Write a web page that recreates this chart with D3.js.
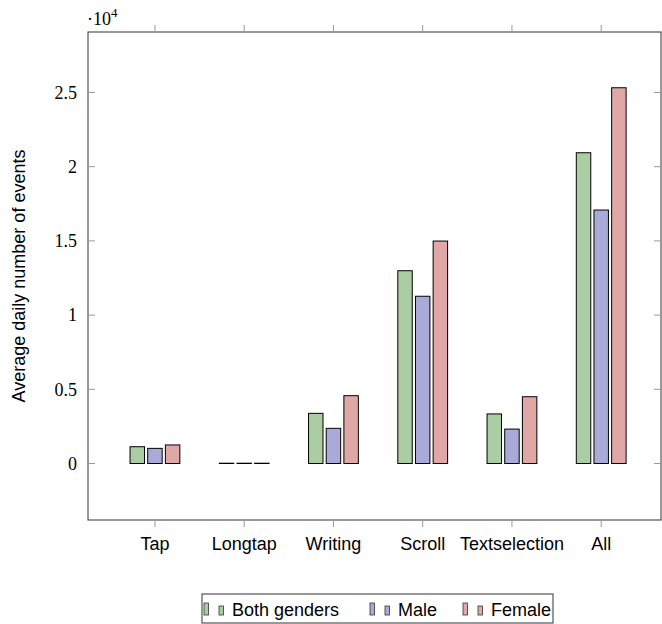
<!DOCTYPE html>
<html lang="en">
<head>
  <meta charset="UTF-8">
  <title>Average daily number of events</title>
  <script src="https://d3js.org/d3.v7.min.js"></script>
  <style>
    body { margin: 0; background: #fff; }
    .sans { font-family: 'Liberation Sans', 'DejaVu Sans', sans-serif; }
    .serif { font-family: 'Liberation Serif', 'DejaVu Serif', serif; }
  </style>
</head>
<body>
  <div id="chart"></div>
  <script>
    const categories = ["Tap", "Longtap", "Writing", "Scroll", "Textselection", "All"];
    const seriesNames = ["Both genders", "Male", "Female"];
    const bothGenders = [1130, 20, 3380, 12990, 3340, 20940];
    const male = [1020, 20, 2370, 11270, 2320, 17080];
    const female = [1250, 20, 4570, 14990, 4500, 25320];
    const yTicks = [0, 5000, 10000, 15000, 20000, 25000];
    const yTickLabels = ["0", "0.5", "1", "1.5", "2", "2.5"];

    const fills = ["#abcda3", "#aaaad8", "#dfa8a6"];
    const series = [bothGenders, male, female];

    const W = 662, H = 624;
    const plot = { left: 88, right: 661, top: 32, bottom: 520 };

    const svg = d3.select("#chart").append("svg")
      .attr("width", W).attr("height", H);

    // index scale, pgfplots-like enlarged limits
    const x = d3.scaleLinear().domain([-0.75, 5.67]).range([plot.left, plot.right]);
    const y = d3.scaleLinear().domain([-3807, 29077]).range([plot.bottom, plot.top]);

    const unit = x(1) - x(0);
    const barW = unit * 0.162;
    const barStep = unit * 0.198;

    // bars
    series.forEach((vals, s) => {
      svg.append("g").selectAll("rect")
        .data(vals)
        .enter()
        .append("rect")
        .attr("x", (d, i) => x(i) + (s - 1) * barStep - barW / 2)
        .attr("y", d => y(d))
        .attr("width", barW)
        .attr("height", d => Math.max(0.01, y(0) - y(d)))
        .attr("fill", fills[s])
        .attr("stroke", "#000")
        .attr("stroke-width", 1);
    });

    // frame
    svg.append("rect")
      .attr("x", plot.left).attr("y", plot.top)
      .attr("width", plot.right - plot.left).attr("height", plot.bottom - plot.top)
      .attr("fill", "none").attr("stroke", "#333").attr("stroke-width", 1);

    // x ticks (outward on top and bottom)
    categories.forEach((c, i) => {
      svg.append("line").attr("x1", x(i)).attr("x2", x(i))
        .attr("y1", plot.bottom).attr("y2", plot.bottom + 7)
        .attr("stroke", "#999");
      svg.append("line").attr("x1", x(i)).attr("x2", x(i))
        .attr("y1", plot.top).attr("y2", plot.top - 7)
        .attr("stroke", "#999");
      svg.append("text").attr("class", "sans")
        .attr("x", x(i)).attr("y", 550)
        .attr("text-anchor", "middle")
        .style("font-size", "18px")
        .text(c);
    });

    // y ticks (inward on left and right)
    yTicks.forEach((t, i) => {
      svg.append("line").attr("x1", plot.left).attr("x2", plot.left + 7)
        .attr("y1", y(t)).attr("y2", y(t)).attr("stroke", "#999");
      svg.append("line").attr("x1", plot.right).attr("x2", plot.right - 7)
        .attr("y1", y(t)).attr("y2", y(t)).attr("stroke", "#999");
      svg.append("text").attr("class", "serif")
        .attr("x", 77).attr("y", y(t))
        .attr("dy", "0.35em")
        .attr("text-anchor", "end")
        .style("font-size", "18px")
        .text(yTickLabels[i]);
    });

    // scale factor label
    const sf = svg.append("text").attr("class", "serif")
      .attr("x", 87).attr("y", 25).style("font-size", "18px");
    sf.append("tspan").text("\u00b710");
    sf.append("tspan").attr("dy", -8).style("font-size", "13px").text("4");

    // y axis label
    svg.append("text").attr("class", "sans")
      .attr("transform", "translate(25," + ((plot.top + plot.bottom) / 2) + ") rotate(-90)")
      .attr("text-anchor", "middle")
      .style("font-size", "18px")
      .text("Average daily number of events");

    // legend
    const lg = svg.append("g");
    lg.append("rect")
      .attr("x", 202).attr("y", 594).attr("width", 351).attr("height", 29)
      .attr("fill", "#fff").attr("stroke", "#333");
    const legendX = [204, 370, 463];
    seriesNames.forEach((name, s) => {
      const lx = legendX[s];
      lg.append("rect").attr("x", lx).attr("y", 603).attr("width", 4.5).attr("height", 12)
        .attr("fill", fills[s]).attr("stroke", "#333").attr("stroke-width", 0.8);
      lg.append("rect").attr("x", lx + 15).attr("y", 606).attr("width", 4.5).attr("height", 9)
        .attr("fill", fills[s]).attr("stroke", "#333").attr("stroke-width", 0.8);
      lg.append("text").attr("class", "sans")
        .attr("x", lx + 28).attr("y", 616)
        .style("font-size", "18px")
        .text(name);
    });
  </script>
</body>
</html>
